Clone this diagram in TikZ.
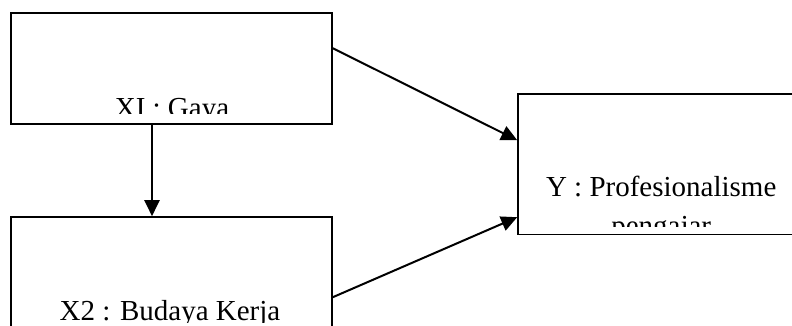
\documentclass[tikz,border=0pt]{standalone}
\usepackage{fontspec}
\setmainfont{Liberation Serif}
\usetikzlibrary{arrows.meta,calc}
\begin{document}
\begin{tikzpicture}[x=1pt,y=-1pt,
  box/.style={draw=black,line width=1.6pt,rectangle,inner sep=0pt},
  lbl/.style={font=\fontsize{29}{35}\selectfont,inner sep=0pt,anchor=base},
  arr/.style={line width=2pt,-{Triangle[length=16pt,width=15pt]}}]
\useasboundingbox (0,0) rectangle (792,325);
\fill[white] (0,0) rectangle (792,325);
% boxes
\node[box,minimum width=321pt,minimum height=111pt] (b1) at (171.5,68.5) {};
\node[box,minimum width=321pt,minimum height=130pt] (b2) at (171.5,282) {};
\node[box,minimum width=312pt,minimum height=140.5pt] (b3) at (674,164.25) {};
% clipped labels
\begin{scope}
  \clip (b1.north west) rectangle ($(b1.south east)+(0,-11)$);
  \node[lbl] (t1) at ($(b1.south)+(0.5,-7)$) {XI : Gaya};
\end{scope}
\begin{scope}
  \clip (b2.north west) rectangle ($(b2.south east)+(0,-25)$);
  \node[lbl] (t2) at ($(b2.north)+(-1.5,104)$) {X2 : Budaya Kerja};
\end{scope}
\begin{scope}
  \clip (b3.north west) rectangle ($(b3.south east)+(0,-8.5)$);
  \node[lbl] (t3) at ($(b3.north west)+(144,103)$) {Y : Profesionalisme};
  \node[lbl] (t4) at ($(t3.base)+(0,39)$) {pengajar};
\end{scope}
% connectors
\draw[arr] ($(b1.north east)+(0,36)$) -- ($(b3.north west)+(0,47)$);
\draw[arr] ($(b2.north east)+(0,81)$) -- ($(b3.north west)+(0,124)$);
\draw[arr] (b1.south -| 152,0) -- (b2.north -| 152,0);
\end{tikzpicture}
\end{document}
